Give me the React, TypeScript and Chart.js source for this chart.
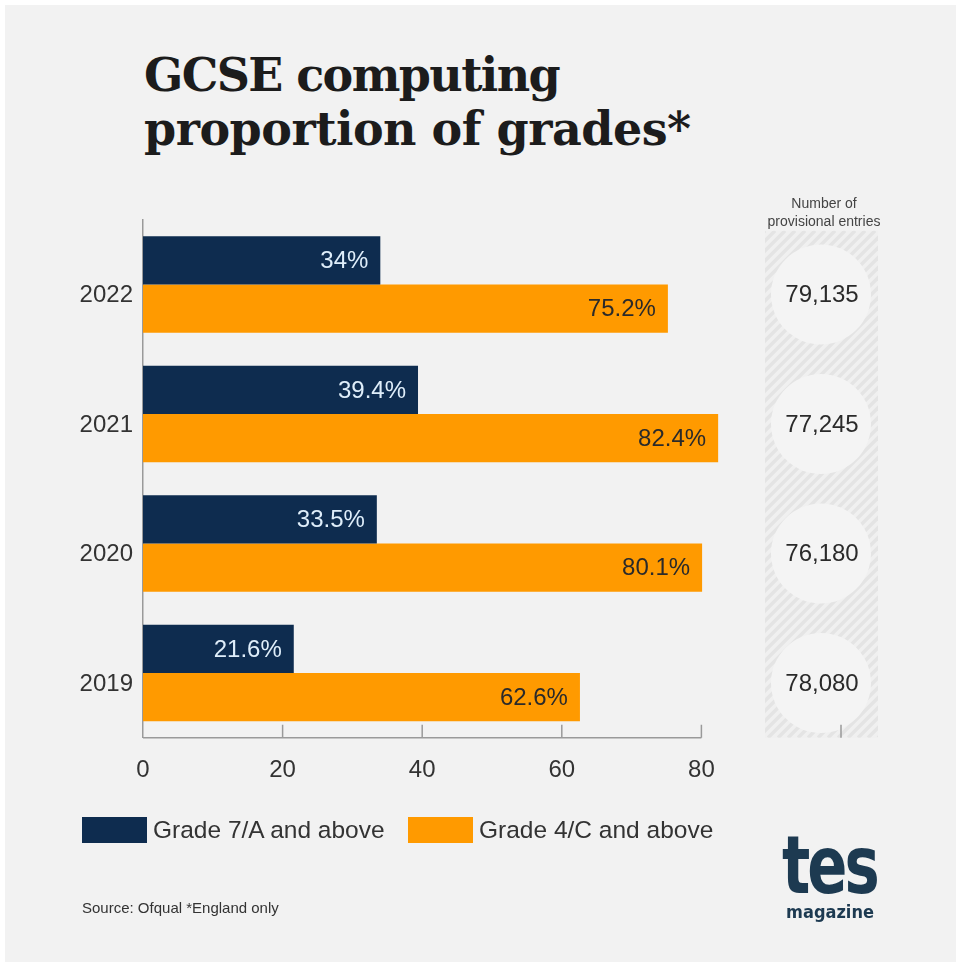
import React, { useEffect, useRef } from "react";
import { Chart, registerables } from "chart.js";

Chart.register(...registerables);

const years = ["2022", "2021", "2020", "2019"];
const gradeA = [34, 39.4, 33.5, 21.6];
const gradeC = [75.2, 82.4, 80.1, 62.6];
const entries = ["79,135", "77,245", "76,180", "78,080"];
const seriesNames = ["Grade 7/A and above", "Grade 4/C and above"];
const seriesColors = ["#0e2c4f", "#ff9a00"];
const labelColors = ["#dfeefa", "#2a2a2a"];
const xTicksShown = [0, 20, 40, 60, 80];

const BG = "#f2f2f2";
const FONT = "'Liberation Sans', Arial, sans-serif";

const decorPlugin = {
  id: "decor",
  beforeDatasetsDraw(chart: any) {
    const { ctx, chartArea, scales } = chart;
    const y = scales.y;
    const left = chartArea.right - 76;
    const right = chartArea.right + 37;
    const top = chartArea.top + 11;
    const bottom = chartArea.bottom;
    ctx.save();
    ctx.beginPath();
    ctx.rect(left, top, right - left, bottom - top);
    ctx.clip();
    ctx.fillStyle = "#f0f0f0";
    ctx.fillRect(left, top, right - left, bottom - top);
    ctx.strokeStyle = "#e4e4e4";
    ctx.lineWidth = 3.5;
    const h = bottom - top;
    for (let s = -h - 50; s < 300; s += 10) {
      ctx.beginPath();
      ctx.moveTo(left + s, bottom);
      ctx.lineTo(left + s + h, top);
      ctx.stroke();
    }
    ctx.fillStyle = "#f4f4f4";
    years.forEach((_, i) => {
      const cy = y.getPixelForValue(i) + 10;
      ctx.beginPath();
      ctx.arc(chartArea.right - 20, cy, 50, 0, Math.PI * 2);
      ctx.fill();
    });
    ctx.restore();

    // header
    ctx.save();
    ctx.fillStyle = "#444";
    ctx.font = `14px ${FONT}`;
    ctx.textAlign = "center";
    ctx.textBaseline = "middle";
    ctx.fillText("Number of", chartArea.right - 17, chartArea.top - 16);
    ctx.fillText("provisional entries", chartArea.right - 17, chartArea.top + 2);
    ctx.restore();
  },
  afterDatasetsDraw(chart: any) {
    const { ctx, chartArea, scales } = chart;
    const x = scales.x;
    const y = scales.y;
    ctx.save();
    // x axis line (0 to 80) and upward ticks
    ctx.strokeStyle = "#9a9a9a";
    ctx.lineWidth = 1.5;
    const by = chartArea.bottom;
    ctx.beginPath();
    ctx.moveTo(x.getPixelForValue(0), by);
    ctx.lineTo(x.getPixelForValue(80), by);
    ctx.stroke();
    x.ticks.forEach((t: any) => {
      if (t.value === 0) return;
      const px = x.getPixelForValue(t.value);
      ctx.beginPath();
      ctx.moveTo(px, by);
      ctx.lineTo(px, by - 13);
      ctx.stroke();
    });

    // value labels
    ctx.font = `24px ${FONT}`;
    ctx.textAlign = "right";
    ctx.textBaseline = "middle";
    chart.data.datasets.forEach((ds: any, di: number) => {
      const meta = chart.getDatasetMeta(di);
      meta.data.forEach((bar: any, i: number) => {
        ctx.fillStyle = labelColors[di];
        ctx.fillText(`${ds.data[i]}%`, bar.x - 12, bar.y + 1);
      });
    });

    // entries
    ctx.fillStyle = "#2a2a2a";
    ctx.textAlign = "center";
    entries.forEach((e, i) => {
      ctx.fillText(e, chartArea.right - 19, y.getPixelForValue(i) + 11);
    });
    ctx.restore();
  },
};

export default function App() {
  const ref = useRef<HTMLCanvasElement>(null);

  useEffect(() => {
    if (!ref.current) return;
    const chart = new Chart(ref.current, {
      type: "bar",
      data: {
        labels: years,
        datasets: [
          {
            label: seriesNames[0],
            data: gradeA,
            backgroundColor: seriesColors[0],
            categoryPercentage: 0.745,
            barPercentage: 1,
          },
          {
            label: seriesNames[1],
            data: gradeC,
            backgroundColor: seriesColors[1],
            categoryPercentage: 0.745,
            barPercentage: 1,
          },
        ],
      },
      options: {
        indexAxis: "y",
        animation: false,
        responsive: false,
        layout: { padding: { left: 53, top: 219.75, right: 121, bottom: 184.25 } },
        plugins: { legend: { display: false }, tooltip: { enabled: false } },
        scales: {
          x: {
            min: 0,
            max: 100,
            afterFit: (s: any) => {
              s.height = 50;
            },
            grid: { display: false, drawTicks: false },
            border: { display: false },
            ticks: {
              stepSize: 20,
              padding: 18,
              color: "#333",
              font: { size: 24, family: FONT },
              callback: (v: any) => (xTicksShown.includes(Number(v)) ? String(v) : ""),
            },
          },
          y: {
            afterFit: (s: any) => {
              s.width = 90;
            },
            grid: { display: false, drawTicks: false },
            border: { display: true, color: "#9a9a9a", width: 1.5 },
            ticks: {
              padding: 10,
              labelOffset: 11,
              color: "#333",
              font: { size: 24, family: FONT },
            },
          },
        },
      },
      plugins: [decorPlugin],
    });
    return () => chart.destroy();
  }, []);

  return (
    <div
      style={{
        position: "absolute",
        left: 0,
        top: 0,
        width: 962,
        height: 972,
        background: "#ffffff",
        overflow: "hidden",
        fontFamily: FONT,
      }}
    >
      <div
        style={{
          position: "absolute",
          left: 5,
          top: 5,
          width: 951,
          height: 957,
          background: BG,
        }}
      />
      <div
        style={{
          position: "absolute",
          left: 144,
          top: 48,
          fontFamily: "'DejaVu Serif', serif",
          fontWeight: 700,
          fontSize: 46,
          lineHeight: "54px",
          color: "#1c1c1c",
          letterSpacing: -0.5,
        }}
      >
        <span style={{ letterSpacing: -1.6 }}>GCSE computing</span>
        <br />
        proportion of grades*
      </div>
      <canvas
        ref={ref}
        width={962}
        height={972}
        style={{ position: "absolute", left: 0, top: 0, width: 962, height: 972 }}
      />
      {/* legend */}
      {seriesNames.map((n, i) => (
        <div
          key={n}
          style={{
            position: "absolute",
            left: i === 0 ? 82 : 408,
            top: 817,
            display: "flex",
            alignItems: "center",
            height: 26,
          }}
        >
          <div style={{ width: 65, height: 26, background: seriesColors[i] }} />
          <div style={{ marginLeft: 6, fontSize: 24.5, color: "#333", whiteSpace: "nowrap" }}>{n}</div>
        </div>
      ))}
      <div
        style={{
          position: "absolute",
          left: 82,
          top: 899,
          fontSize: 15,
          color: "#333",
          whiteSpace: "nowrap",
        }}
      >
        Source: Ofqual *England only
      </div>
      {/* logo */}
      <div
        style={{
          position: "absolute",
          left: 776,
          top: 826,
          width: 106,
          textAlign: "center",
          color: "#1d3a51",
          fontFamily: "'DejaVu Sans', sans-serif",
          fontWeight: 700,
        }}
      >
        <div
          style={{
            fontSize: 80,
            lineHeight: "80px",
            letterSpacing: -4,
            transform: "scaleX(0.74)",
            transformOrigin: "center",
            height: 80,
            marginLeft: -9,
          }}
        >
          tes
        </div>
        <div
          style={{
            fontSize: 18,
            lineHeight: "20px",
            transform: "scaleX(0.9)",
            transformOrigin: "center",
            marginTop: -4,
            marginLeft: 2,
          }}
        >
          magazine
        </div>
      </div>
    </div>
  );
}
